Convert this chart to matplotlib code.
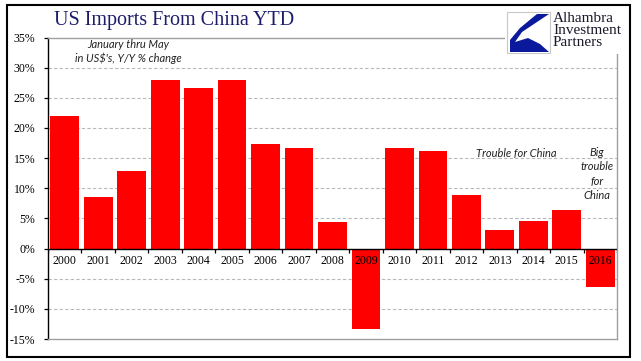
import numpy as np
import matplotlib.pyplot as plt
from matplotlib.patches import Rectangle, Polygon

## data (Jan-May, Y/Y % change)
years = ['2000', '2001', '2002', '2003', '2004', '2005', '2006', '2007', '2008',
         '2009', '2010', '2011', '2012', '2013', '2014', '2015', '2016']
pct = [21.9, 8.6, 12.8, 28.0, 26.6, 27.9, 17.4, 16.7, 4.4,
       -13.4, 16.7, 16.2, 8.9, 3.05, 4.6, 6.4, -6.4]
yticks = [-15, -10, -5, 0, 5, 10, 15, 20, 25, 30, 35]

W, H = 641, 361
fig = plt.figure(figsize=(W / 100, H / 100), dpi=100)

def fx(px):
    return px / W

def fy(py):
    return 1 - py / H

ax = fig.add_axes([fx(48), fy(339), fx(617) - fx(48), fy(37.5) - fy(339)])
x = np.arange(len(years))

## grid
for v in yticks:
    if v in (0, -15, 35):
        continue
    ax.axhline(v, color='#b8b8b8', lw=0.8, ls=(0, (3, 2)), zorder=0)

ax.bar(x, pct, width=0.86, color='#ff0000', zorder=2)

## zero line and its ticks between the categories
ax.axhline(0, color='black', lw=1.0, zorder=3)
ax.vlines(np.arange(len(years) + 1) - 0.5, -0.7, 0, color='black', lw=0.9, zorder=3)

for xi, lab in zip(x, years):
    ax.text(xi, -2.1, lab, ha='center', va='center', fontsize=8.5,
            family='Liberation Serif', zorder=4)

ax.set_xlim(-0.5, len(years) - 0.5)
ax.set_ylim(-15, 35)
ax.set_xticks([])
ax.set_yticks(yticks)
ax.set_yticklabels([f'{v}%' for v in yticks], family='Liberation Serif', fontsize=8.5)
ax.tick_params(axis='y', length=3, width=0.9, pad=6)

for s in ['top', 'right', 'bottom']:
    ax.spines[s].set_color('#a0a0a0')
    ax.spines[s].set_linewidth(1.0)
ax.spines['left'].set_color('black')
ax.spines['left'].set_linewidth(1.0)

## annotations
note_font = dict(family='Lato', style='italic', fontsize=8, color='#222222')
fig.text(fx(128), fy(44), 'January thru May', ha='center', va='center', **note_font)
fig.text(fx(128), fy(58), "in US$'s, Y/Y % change", ha='center', va='center', **note_font)
fig.text(fx(516), fy(154), 'Trouble for China', ha='center', va='center', **note_font)
fig.text(fx(597), fy(174), 'Big\ntrouble\nfor\nChina', ha='center', va='center',
         linespacing=1.35, **note_font)

## title
fig.text(fx(174), fy(20), 'US Imports From China YTD', ha='center', va='center',
         family='Liberation Serif', fontsize=14.5, color='#1c1c6b')

## logo box
fig.add_artist(Rectangle((fx(505), fy(54)), fx(626) - fx(505), fy(11) - fy(54),
                         transform=fig.transFigure, facecolor='white', edgecolor='none', zorder=5))
fig.add_artist(Rectangle((fx(507), fy(53)), fx(550) - fx(507), fy(12) - fy(53),
                         transform=fig.transFigure, facecolor='white', edgecolor='#c8c8c8',
                         lw=0.8, zorder=6))
top = [(537, 14), (549, 14), (522, 32), (515, 42), (528, 38), (540, 44), (549, 52), (510, 52), (510, 40), (520, 28)]
fig.add_artist(Polygon([(fx(a), fy(b)) for a, b in top], closed=True,
                       transform=fig.transFigure, facecolor='#0b1a9c', edgecolor='none', zorder=7))
for i, w in enumerate(['Alhambra', 'Investment', 'Partners']):
    fig.text(fx(553), fy(19 + 12 * i), w, ha='left', va='center', family='Liberation Serif',
             fontsize=11, color='#1a1a2a', zorder=8)

## outer frame
fig.add_artist(Rectangle((fx(6.5), fy(357)), fx(629.5) - fx(6.5), fy(5) - fy(357),
                         transform=fig.transFigure, facecolor='none', edgecolor='black',
                         lw=1.5, zorder=9))

fig.savefig('out.png', dpi=100)
